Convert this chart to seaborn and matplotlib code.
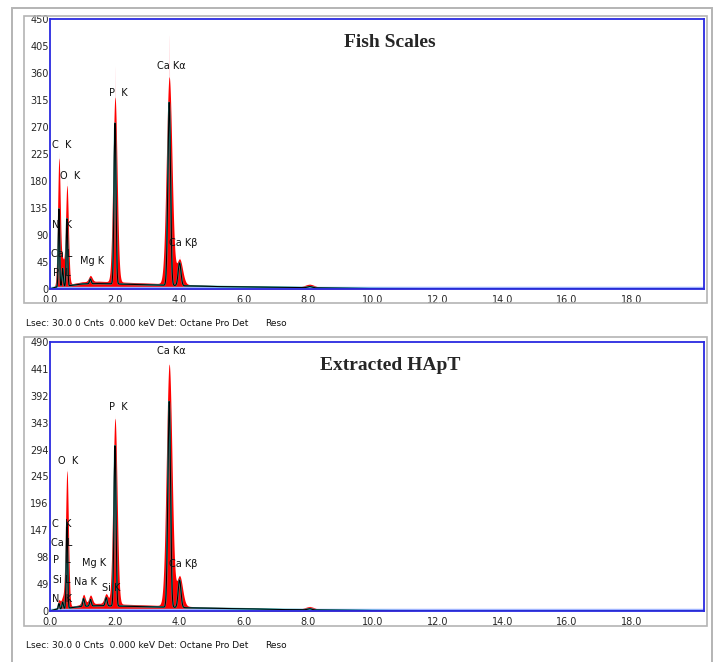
import numpy as np
import matplotlib
matplotlib.use("Agg")
import matplotlib.pyplot as plt
from matplotlib.patches import Rectangle
import seaborn as sns
import pandas as pd

sns.set_theme(style="white")
plt.rcParams['font.family'] = ['DejaVu Sans']

# ---- Fish scales spectrum ----
fs_peak_energy = [0.277, 0.392, 0.525, 1.25, 2.013, 3.69, 4.012, 8.04]
fs_peak_counts = [212, 40, 165, 10, 308, 345, 42, 5]      # red spectrum
fs_fit_counts = [130, 30, 112, 8, 268, 305, 38, 2]        # fitted outline
fs_peak_max = [225, 45, 175, 12, 360, 415, 48, 6]         # faint spike tips
fs_bg_energy = [0.0, 0.15, 0.6, 1.0, 1.5, 2.0, 3.0, 4.0, 5.0, 6.0, 7.0, 8.0, 9.0, 10.0, 11.0, 12.0, 20.5]
fs_bg_counts = [0, 4, 8, 12, 13, 12, 10, 8, 6, 5, 4, 3, 2, 1, 0.5, 0, 0]

# ---- Extracted HApT spectrum ----
hp_peak_energy = [0.277, 0.392, 0.525, 1.04, 1.254, 1.74, 2.013, 3.69, 4.012, 8.04]
hp_peak_counts = [15, 18, 248, 18, 16, 18, 338, 440, 55, 5]
hp_fit_counts = [10, 12, 155, 14, 12, 15, 292, 375, 50, 2]
hp_peak_max = [18, 20, 255, 20, 18, 20, 345, 445, 58, 6]
hp_bg_energy = [0.0, 0.15, 0.6, 1.0, 1.5, 2.0, 3.0, 4.0, 5.0, 6.0, 7.0, 8.0, 9.0, 10.0, 11.0, 11.5, 20.5]
hp_bg_counts = [0, 4, 8, 12, 14, 13, 11, 9, 7, 6, 4, 3, 2, 1, 0.5, 0, 0]

fs_ticks = [0, 45, 90, 135, 180, 225, 270, 315, 360, 405, 450]
hp_ticks = [0, 49, 98, 147, 196, 245, 294, 343, 392, 441, 490]
x_ticks = [0.0, 2.0, 4.0, 6.0, 8.0, 10.0, 12.0, 14.0, 16.0, 18.0]

# peak labels: (text, energy, counts)
fs_labels = [("C  K", 0.36, 232), ("O  K", 0.62, 180), ("N  K", 0.36, 99),
             ("Ca L", 0.36, 50), ("P  L", 0.36, 18), ("Mg K", 1.3, 38),
             ("P  K", 2.1, 318), ("Ca Kα", 3.75, 364), ("Ca Kβ", 4.12, 68)]
hp_labels = [("O  K", 0.55, 264), ("C  K", 0.36, 150), ("Ca L", 0.36, 115),
             ("P  L", 0.36, 83), ("Si L", 0.36, 48), ("N  K", 0.36, 12),
             ("Mg K", 1.37, 79), ("Na K", 1.1, 44), ("Si K", 1.9, 33),
             ("P  K", 2.1, 362), ("Ca Kα", 3.75, 464), ("Ca Kβ", 4.12, 77)]

energy = np.linspace(0, 20.25, 8000)


def peaks(e, centers, heights, scale=1.0):
    out = np.zeros_like(e)
    for c, h in zip(centers, heights):
        sig = (0.02 + 0.007 * c) * scale
        out += h * np.exp(-0.5 * ((e - c) / sig) ** 2)
    return out


def draw(ax, pe, pc, fc, pm, be, bc, ticks, labels, title):
    bg = np.interp(energy, be, bc)
    red = bg + peaks(energy, pe, pc, 1.9)
    fit = bg * 0.7 + peaks(energy, pe, fc, 0.9)
    tip = bg + peaks(energy, pe, pm, 0.4)
    df = pd.DataFrame({"keV": energy, "red": red, "fit": fit, "tip": tip})
    ax.fill_between(df["keV"], 0, df["tip"], color="#ff9aa8", alpha=0.5, lw=0)
    ax.fill_between(df["keV"], 0, df["red"], color="#ff0000", lw=0)
    sns.lineplot(data=df, x="keV", y="fit", ax=ax, color="#20b2aa", lw=1.2, legend=False)
    sns.lineplot(data=df, x="keV", y="fit", ax=ax, color="black", lw=0.75, legend=False)
    top = ticks[-1]
    ax.set_xlim(0, 20.25)
    ax.set_ylim(0, top)
    ax.set_yticks(ticks)
    ax.set_yticklabels([str(t) for t in ticks], fontsize=7)
    ax.set_xticks(x_ticks)
    ax.set_xticklabels([f"{t:.1f}" for t in x_ticks], fontsize=7)
    ax.tick_params(axis="y", length=0, pad=1)
    ax.tick_params(axis="x", length=0, pad=4)
    ax.set_xlabel("")
    ax.set_ylabel("")
    for s in ax.spines.values():
        s.set_color("#2a2ae0")
        s.set_linewidth(1.3)
    ax.axhline(top * 0.004, color="#9fb3ff", lw=2.5, zorder=1)
    for txt, x, y in labels:
        ax.text(x, y, txt, fontsize=7, ha="center", va="bottom", color="#111111")
    ax.text(0.52, 0.88, title, transform=ax.transAxes, ha="center", va="bottom",
            fontsize=14, fontweight="bold", family=["Liberation Serif"])


fig = plt.figure(figsize=(7.16, 6.62), dpi=100)
W, H = 716, 662

def frac_rect(x0, y0, x1, y1):
    return [x0 / W, 1 - y1 / H, (x1 - x0) / W, (y1 - y0) / H]

# outer frame and panel boxes
for (x0, y0, x1, y1), lw in [((12, 8, 712, 668), 1.4), ((24, 16, 707, 303), 1.2), ((24, 337, 707, 626), 1.2)]:
    r = frac_rect(x0, y0, x1, y1)
    fig.add_artist(Rectangle((r[0], r[1]), r[2], r[3], transform=fig.transFigure,
                             fill=False, edgecolor="#b4b4b4", lw=lw))

ax1 = fig.add_axes(frac_rect(50, 19, 704, 289))
ax2 = fig.add_axes(frac_rect(50, 342, 704, 611))

draw(ax1, fs_peak_energy, fs_peak_counts, fs_fit_counts, fs_peak_max,
     fs_bg_energy, fs_bg_counts, fs_ticks, fs_labels, "Fish Scales")
draw(ax2, hp_peak_energy, hp_peak_counts, hp_fit_counts, hp_peak_max,
     hp_bg_energy, hp_bg_counts, hp_ticks, hp_labels, "Extracted HApT")

status = "Lsec: 30.0 0 Cnts  0.000 keV Det: Octane Pro Det"
for y in (323, 645):
    fig.text(26 / W, 1 - y / H, status, fontsize=6.5, va="center", color="#111111")
    fig.text(265 / W, 1 - y / H, "Reso", fontsize=6.5, va="center", color="#111111")

fig.savefig("out.png", dpi=100)
